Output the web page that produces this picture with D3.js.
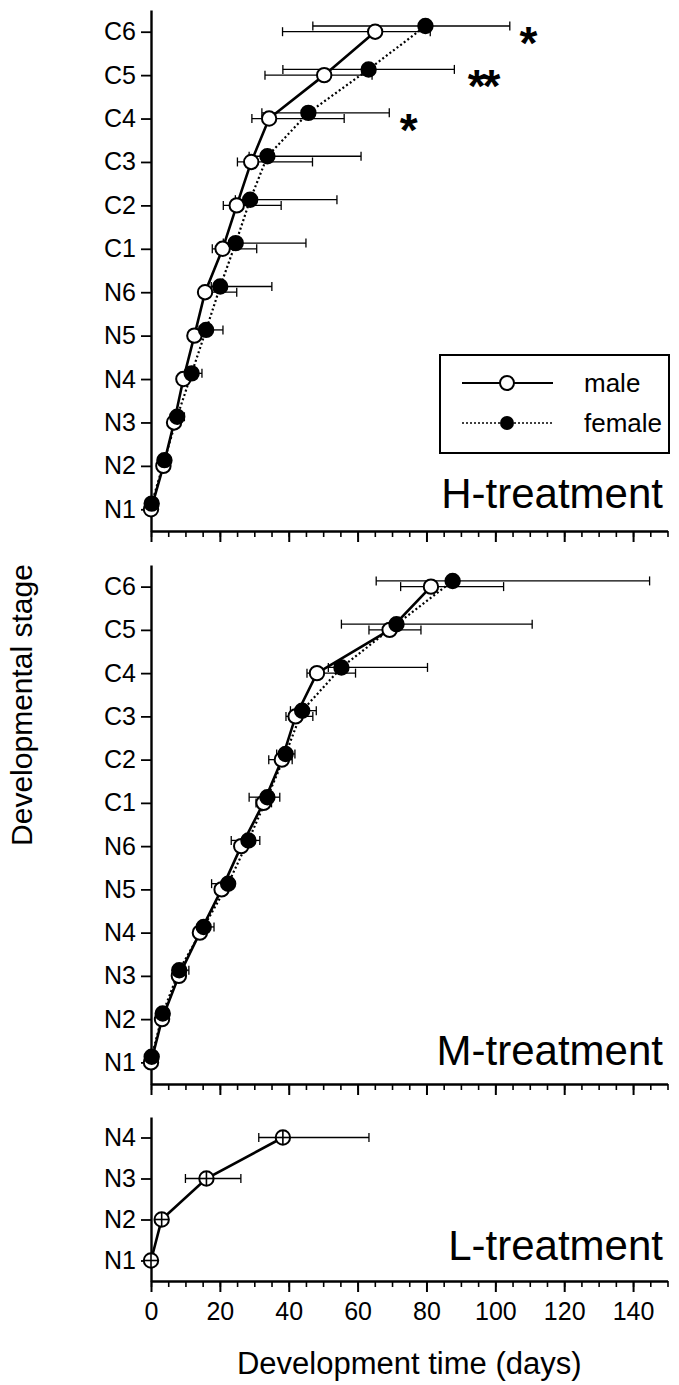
<!DOCTYPE html>
<html>
<head>
<meta charset="utf-8">
<script src="https://cdn.jsdelivr.net/npm/d3@7"></script>
<style>
body { margin: 0; background: #fff; }
text { font-family: "Liberation Sans", Arial, Helvetica, sans-serif; fill: #000; }
</style>
</head>
<body>
<svg id="chart" width="679" height="1385"></svg>
<script>

// developmental stages, youngest first
const stages = ['N1', 'N2', 'N3', 'N4', 'N5', 'N6', 'C1', 'C2', 'C3', 'C4', 'C5', 'C6'];
const lStages = ['N1', 'N2', 'N3', 'N4'];
const xTicks = [0, 20, 40, 60, 80, 100, 120, 140];

// H-treatment (days)
const hMale     = [0, 3.6, 6.7, 9.4, 12.6, 15.7, 20.8, 24.9, 29.1, 34.3, 50.3, 65.1];
const hMaleLo   = [0, 3.0, 6.0, 8.5, 11.5, 14.0, 17.8, 21.0, 25.1, 29.3, 33.1, 38.2];
const hMaleHi   = [0, 4.2, 7.6, 11.0, 14.5, 24.9, 30.7, 37.8, 46.9, 56.1, 64.2, 81.1];
const hFemale   = [0.2, 3.9, 7.6, 11.8, 16.0, 20.1, 24.6, 28.8, 33.8, 45.7, 63.2, 79.7];
const hFemaleLo = [0, 3.2, 6.5, 10.0, 14.0, 17.5, 21.0, 24.5, 28.5, 32.2, 38.3, 47.0];
const hFemaleHi = [0.4, 4.6, 9.7, 14.8, 20.9, 35.1, 45.0, 54.0, 61.0, 69.2, 88.1, 104.2];

// M-treatment (days)
const mMale     = [0, 3.2, 8.1, 14.2, 20.5, 26.2, 32.7, 38.0, 42.0, 48.2, 69.3, 81.3];
const mMaleLo   = [0, 2.7, 7.3, 13.0, 19.0, 24.5, 30.5, 34.2, 39.2, 45.3, 63.3, 72.5];
const mMaleHi   = [0, 3.8, 9.0, 15.5, 22.0, 28.0, 35.0, 41.0, 47.0, 59.4, 78.4, 102.4];
const mFemale   = [0.2, 3.4, 8.2, 15.3, 22.4, 28.3, 33.8, 39.1, 43.9, 55.3, 71.3, 87.6];
const mFemaleLo = [0, 2.8, 7.5, 14.0, 17.6, 23.3, 28.5, 36.5, 40.5, 51.5, 55.3, 65.4];
const mFemaleHi = [0.4, 4.0, 11.0, 18.3, 24.0, 31.6, 37.4, 41.8, 48.0, 80.3, 110.7, 144.8];

// L-treatment (sexes pooled)
const lMean = [0, 3.1, 16.1, 38.3];
const lLo   = [0, 3.1, 10.0, 31.3];
const lHi   = [0, 3.1, 26.1, 63.3];

// significance marks in H-treatment
const sigStage = ['C6', 'C5', 'C4'];
const sigDay   = [109.2, 96.3, 74.4];
const sigText  = ['*', '**', '*'];

const svg = d3.select('#chart');
const x = d3.scaleLinear().domain([0, 150]).range([151, 667.5]);
const femaleShift = -5.7;

const panels = [
    { label: 'H-treatment', labelY: 508, top: 10, bottom: 531, stages: stages, showTicks: false,
      groups: [
        { kind: 'female', mean: hFemale, lo: hFemaleLo, hi: hFemaleHi },
        { kind: 'male', mean: hMale, lo: hMaleLo, hi: hMaleHi }
      ] },
    { label: 'M-treatment', labelY: 1065, top: 565, bottom: 1084, stages: stages, showTicks: false,
      groups: [
        { kind: 'female', mean: mFemale, lo: mFemaleLo, hi: mFemaleHi },
        { kind: 'male', mean: mMale, lo: mMaleLo, hi: mMaleHi }
      ] },
    { label: 'L-treatment', labelY: 1260, top: 1117, bottom: 1281, stages: lStages, showTicks: true,
      groups: [
        { kind: 'pooled', mean: lMean, lo: lLo, hi: lHi }
      ] }
];

panels.forEach(drawPanel);

function drawPanel(p) {
    const y = d3.scalePoint().domain(p.stages).range([p.bottom, p.top]).padding(0.5);
    const g = svg.append('g');

    // minor x ticks
    g.append('g')
        .attr('transform', `translate(0,${p.bottom})`)
        .call(d3.axisBottom(x).tickValues(d3.range(0, 151, 5)).tickSize(6).tickSizeOuter(0).tickFormat(''))
        .call(a => a.select('.domain').remove())
        .call(a => a.selectAll('line').attr('stroke-width', 1.6));

    // major x ticks
    const xa = g.append('g')
        .attr('transform', `translate(0,${p.bottom})`)
        .call(d3.axisBottom(x).tickValues(xTicks).tickSize(11).tickSizeOuter(0).tickPadding(10)
            .tickFormat(p.showTicks ? d3.format('d') : ''));
    xa.select('.domain').attr('stroke-width', 2.4);
    xa.selectAll('line').attr('stroke-width', 2);
    xa.selectAll('text').attr('font-size', 25);

    // y axis
    const ya = g.append('g')
        .attr('transform', `translate(${x(0)},0)`)
        .call(d3.axisLeft(y).tickSize(10).tickSizeOuter(0).tickPadding(5));
    ya.select('.domain').attr('stroke-width', 2.4);
    ya.selectAll('line').attr('stroke-width', 1.8);
    ya.selectAll('text').attr('font-size', 25);

    // error bars
    p.groups.forEach(grp => {
        const dy = grp.kind === 'female' ? femaleShift : 0;
        const bars = p.stages.map((s, i) => ({ y: y(s) + dy, lo: grp.lo[i], hi: grp.hi[i] }))
            .filter(d => d.hi > d.lo);
        const eb = g.append('g').attr('stroke', '#000').attr('stroke-width', 1.3);
        eb.selectAll('.bar').data(bars).join('line')
            .attr('x1', d => x(d.lo)).attr('x2', d => x(d.hi))
            .attr('y1', d => d.y).attr('y2', d => d.y);
        eb.selectAll('.capl').data(bars).join('line')
            .attr('x1', d => x(d.lo)).attr('x2', d => x(d.lo))
            .attr('y1', d => d.y - 4.5).attr('y2', d => d.y + 4.5);
        eb.selectAll('.caph').data(bars).join('line')
            .attr('x1', d => x(d.hi)).attr('x2', d => x(d.hi))
            .attr('y1', d => d.y - 4.5).attr('y2', d => d.y + 4.5);
    });

    // connecting lines
    p.groups.forEach(grp => {
        const dy = grp.kind === 'female' ? femaleShift : 0;
        const line = d3.line().x(d => x(d[1])).y(d => y(d[0]) + dy);
        g.append('path')
            .datum(p.stages.map((s, i) => [s, grp.mean[i]]))
            .attr('d', line)
            .attr('fill', 'none')
            .attr('stroke', '#000')
            .attr('stroke-width', grp.kind === 'female' ? 2.2 : 2.6)
            .attr('stroke-dasharray', grp.kind === 'female' ? '2,2.5' : null);
    });

    // markers: male (open) first, female (filled) on top
    p.groups.slice().reverse().forEach(grp => {
        const dy = grp.kind === 'female' ? femaleShift : 0;
        const pts = p.stages.map((s, i) => ({ cx: x(grp.mean[i]), cy: y(s) + dy }));
        const mk = g.append('g');
        mk.selectAll('circle').data(pts).join('circle')
            .attr('cx', d => d.cx).attr('cy', d => d.cy).attr('r', 7.2)
            .attr('fill', grp.kind === 'female' ? '#000' : '#fff')
            .attr('stroke', '#000').attr('stroke-width', 2);
        if (grp.kind === 'pooled') {
            mk.selectAll('.h').data(pts).join('line')
                .attr('x1', d => d.cx - 7).attr('x2', d => d.cx + 7)
                .attr('y1', d => d.cy).attr('y2', d => d.cy)
                .attr('stroke', '#000').attr('stroke-width', 1.6);
            mk.selectAll('.v').data(pts).join('line')
                .attr('x1', d => d.cx).attr('x2', d => d.cx)
                .attr('y1', d => d.cy - 7).attr('y2', d => d.cy + 7)
                .attr('stroke', '#000').attr('stroke-width', 1.6);
        }
    });

    g.append('text')
        .attr('x', 663).attr('y', p.labelY)
        .attr('text-anchor', 'end')
        .attr('font-size', 42)
        .text(p.label);

    p.y = y;
}

// significance asterisks
const yH = panels[0].y;
svg.append('g').selectAll('text').data(sigText).join('text')
    .attr('x', (d, i) => x(sigDay[i]))
    .attr('y', (d, i) => yH(sigStage[i]) + 27)
    .attr('text-anchor', 'middle')
    .attr('font-size', 46)
    .attr('font-weight', 'bold')
    .attr('letter-spacing', -3)
    .text(d => d);

// legend
const lg = svg.append('g');
lg.append('rect').attr('x', 440).attr('y', 355).attr('width', 229).attr('height', 98)
    .attr('fill', '#fff').attr('stroke', '#000').attr('stroke-width', 2);
lg.append('line').attr('x1', 462).attr('x2', 553).attr('y1', 383).attr('y2', 383)
    .attr('stroke', '#000').attr('stroke-width', 2);
lg.append('circle').attr('cx', 507).attr('cy', 383).attr('r', 7)
    .attr('fill', '#fff').attr('stroke', '#000').attr('stroke-width', 2);
lg.append('line').attr('x1', 462).attr('x2', 553).attr('y1', 423).attr('y2', 423)
    .attr('stroke', '#000').attr('stroke-width', 1.6).attr('stroke-dasharray', '2,2');
lg.append('circle').attr('cx', 507).attr('cy', 423).attr('r', 7).attr('fill', '#000');
lg.append('text').attr('x', 584).attr('y', 392).attr('font-size', 26).text('male');
lg.append('text').attr('x', 584).attr('y', 432).attr('font-size', 26).text('female');

// axis titles
svg.append('text')
    .attr('x', (x.range()[0] + x.range()[1]) / 2).attr('y', 1374)
    .attr('text-anchor', 'middle').attr('font-size', 31)
    .text('Development time (days)');
svg.append('text')
    .attr('transform', 'translate(32,705) rotate(-90)')
    .attr('text-anchor', 'middle').attr('font-size', 30)
    .text('Developmental stage');

</script>
</body>
</html>
